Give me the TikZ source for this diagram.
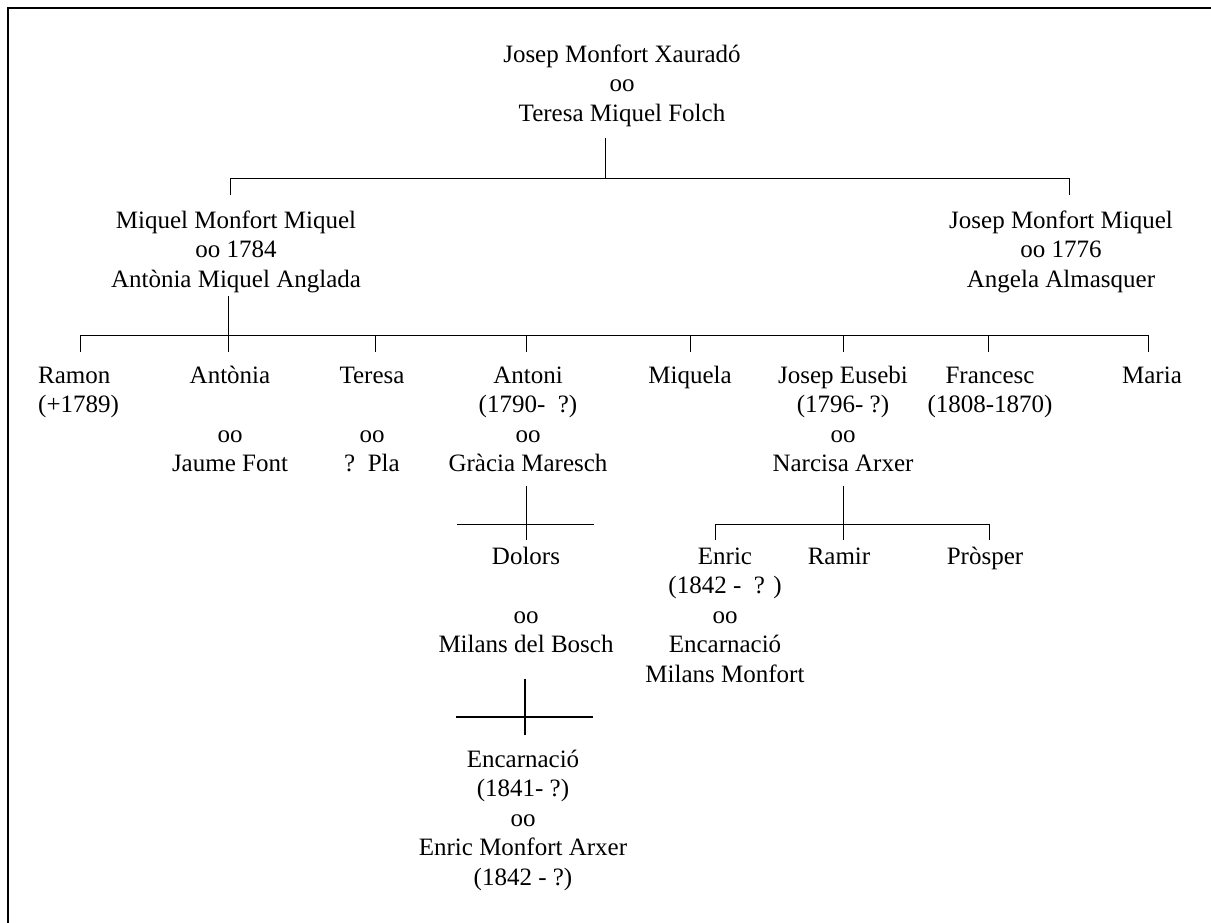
\documentclass[tikz,border=0pt]{standalone}
\usepackage{fontspec}
\setmainfont{Liberation Serif}
\newcommand{\blkc}[1]{\begin{tabular}[t]{@{}c@{}}#1\end{tabular}}
\newcommand{\blkl}[1]{\begin{tabular}[t]{@{}l@{}}#1\end{tabular}}
\begin{document}
\begin{tikzpicture}[x=1pt,y=-1pt,
  person/.style={inner sep=0pt, anchor=base, font=\fontsize{25}{29.5}\selectfont},
  link/.style={line width=0.9pt},
  thick link/.style={line width=1.4pt}]
\useasboundingbox (0,0) rectangle (1211,922);
\draw[line width=1.3pt] (8,940) -- (8,8) -- (1230,8);

% nodes
\node[person] (top) at (622,62) {\blkc{Josep Monfort Xauradó\\oo\\Teresa Miquel Folch}};
\node[person] (miquel) at (236,228) {\blkc{Miquel Monfort Miquel\\oo 1784\\Antònia Miquel Anglada}};
\node[person] (josepm) at (1061,228) {\blkc{Josep Monfort Miquel\\oo 1776\\Angela Almasquer}};

\node[person, anchor=base west] (ramon) at (38,383) {\blkl{Ramon\\(+1789)}};
\node[person] (antonia) at (230,383) {\blkc{Antònia\\ \\oo\\Jaume Font}};
\node[person] (teresa) at (372,383) {\blkc{Teresa\\ \\oo\\?\ \ Pla}};
\node[person] (antoni) at (528,383) {\blkc{Antoni\\(1790-\ \ ?)\\oo\\Gràcia Maresch}};
\node[person] (miquela) at (690,383) {\blkc{Miquela}};
\node[person] (josepe) at (843,383) {\blkc{Josep Eusebi\\(1796- ?)\\oo\\Narcisa Arxer}};
\node[person] (francesc) at (990,383) {\blkc{Francesc\\(1808-1870)}};
\node[person] (maria) at (1152,383) {\blkc{Maria}};

\node[person] (dolors) at (526,564) {\blkc{Dolors\\ \\oo\\Milans del Bosch}};
\node[person] (enric) at (725,564) {\blkc{Enric\\(1842 -\ \ ? )\\oo\\Encarnació\\Milans Monfort}};
\node[person] (ramir) at (839,564) {\blkc{Ramir}};
\node[person] (prosper) at (985,564) {\blkc{Pròsper}};

\node[person] (encarn) at (523,767) {\blkc{Encarnació\\(1841- ?)\\oo\\Enric Monfort Arxer\\(1842 - ?)}};

% junction coordinates
\coordinate (t0) at (605,178);
\coordinate (tl) at (230,178);
\coordinate (tr) at (1069,178);

\coordinate (c1) at (80,335);
\coordinate (c2) at (228,335);
\coordinate (c3) at (375,335);
\coordinate (c4) at (526,335);
\coordinate (c5) at (690,335);
\coordinate (c6) at (843,335);
\coordinate (c7) at (988,335);
\coordinate (c8) at (1148,335);

\coordinate (a0) at (526,524);
\coordinate (aL) at (457,524);
\coordinate (aR) at (594,524);

\coordinate (n0) at (843,524);
\coordinate (nL) at (715,524);
\coordinate (nR) at (989,524);

\coordinate (d0) at (525,717);
\coordinate (dL) at (456,717);
\coordinate (dR) at (593,717);

% first generation
\draw[link] ([yshift=-8pt]top.south -| t0) -- (t0);
\draw[link] (tl) -- (tr);
\draw[link] (tl) -- ([yshift=12pt]miquel.north -| tl);
\draw[link] (tr) -- ([yshift=12pt]josepm.north -| tr);

% children of Miquel
\draw[link] (miquel.south -| c2) -- ([yshift=10pt]antonia.north -| c2);
\draw[link] (c1) -- (c8);
\draw[link] (c1) -- ([yshift=10pt]ramon.north -| c1);
\draw[link] (c3) -- ([yshift=10pt]teresa.north -| c3);
\draw[link] (c4) -- ([yshift=10pt]antoni.north -| c4);
\draw[link] (c5) -- ([yshift=10pt]miquela.north -| c5);
\draw[link] (c6) -- ([yshift=10pt]josepe.north -| c6);
\draw[link] (c7) -- ([yshift=10pt]francesc.north -| c7);
\draw[link] (c8) -- ([yshift=10pt]maria.north -| c8);

% Antoni's daughter
\draw[link] ([yshift=-5pt]antoni.south -| a0) -- ([yshift=3pt]dolors.north -| a0);
\draw[link] (aL) -- (aR);

% Josep Eusebi's children
\draw[link] ([yshift=-5pt]josepe.south -| n0) -- ([yshift=3pt]ramir.north -| n0);
\draw[link] (nL) -- (nR);
\draw[link] (nL) -- ([yshift=3pt]enric.north -| nL);
\draw[link] (nR) -- ([yshift=3pt]prosper.north -| nR);

% Dolors' daughter
\draw[thick link] ([yshift=-17pt]dolors.south -| d0) -- ([yshift=11pt]encarn.north -| d0);
\draw[thick link] (dL) -- (dR);
\end{tikzpicture}
\end{document}
